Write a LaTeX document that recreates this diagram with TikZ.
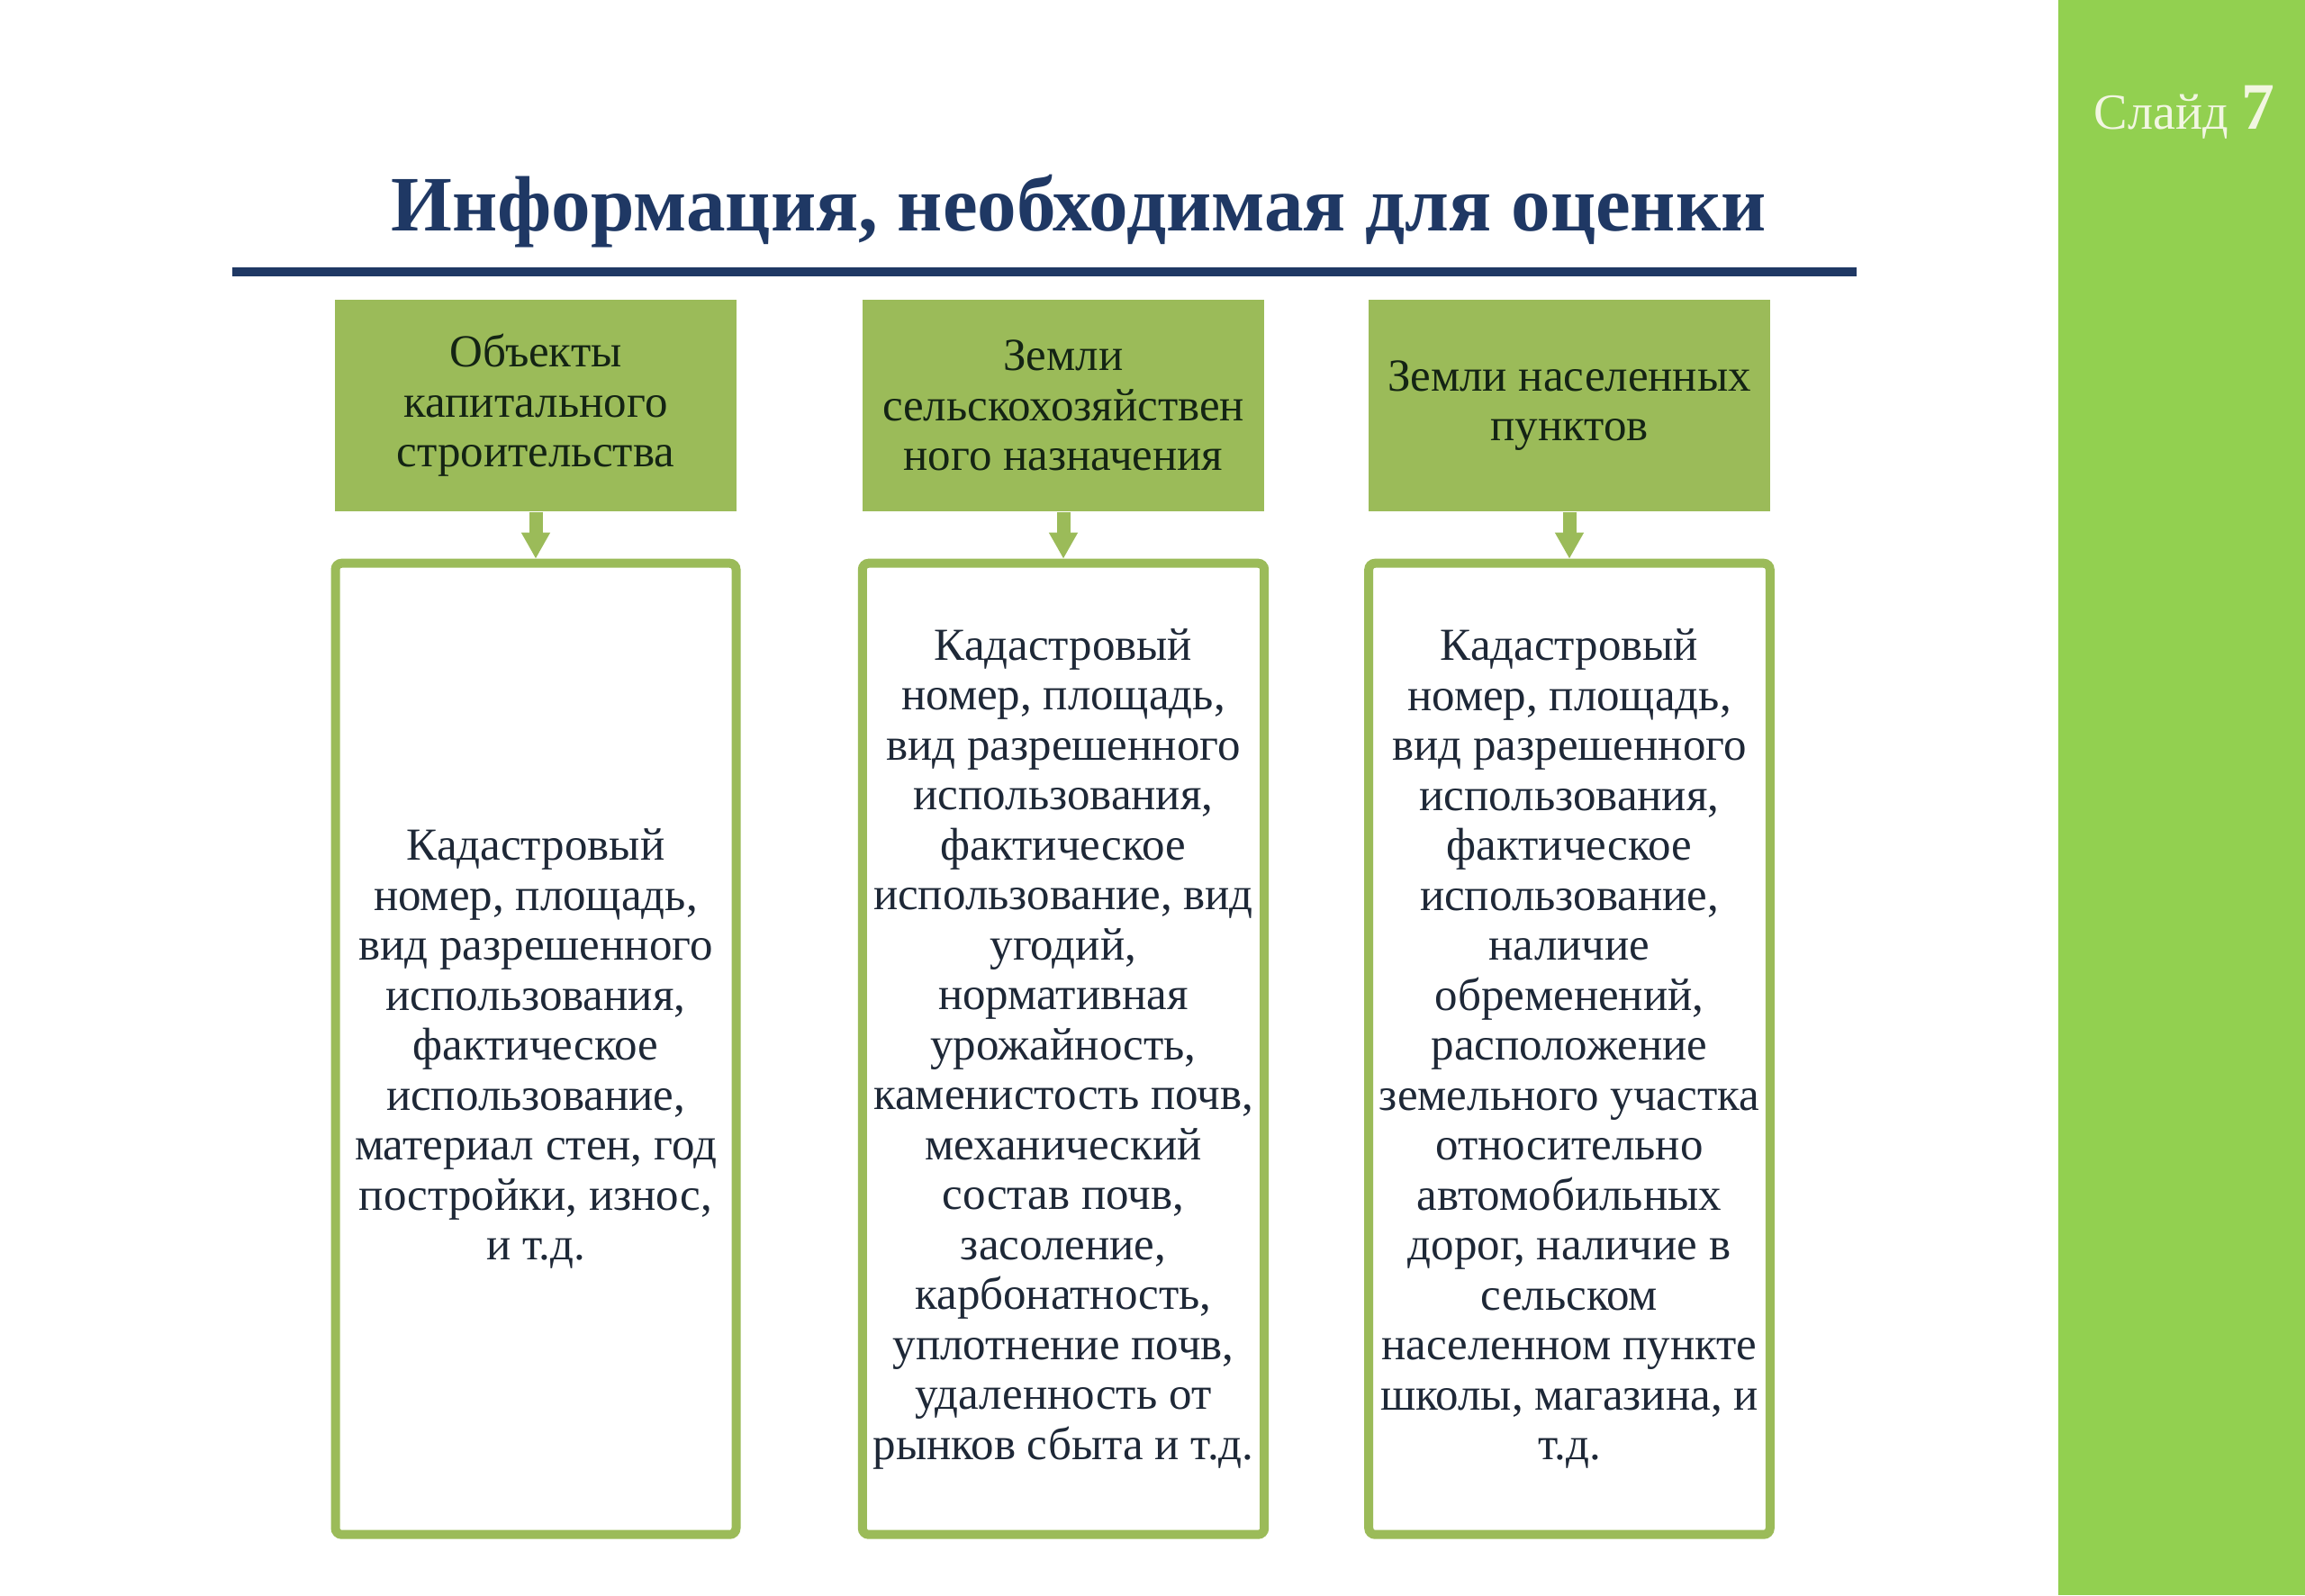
\documentclass[tikz,border=0pt]{standalone}
\usepackage{fontspec}
\setmainfont{Liberation Serif}
\usepackage{xcolor}
\usepackage{tikz}
\usetikzlibrary{arrows.meta,positioning}
\definecolor{slideGreen}{RGB}{146,208,80}
\definecolor{headerGreen}{RGB}{155,187,89}
\definecolor{titleNavy}{RGB}{31,56,100}
\definecolor{textDark}{RGB}{30,40,55}
\definecolor{headText}{RGB}{20,36,20}
\definecolor{labelCream}{RGB}{242,246,226}
\tikzset{
  hdrbox/.style={
    rectangle, fill=headerGreen, minimum width=4.46cm, minimum height=2.35cm,
    align=center, text=headText, font=\fontsize{14.5pt}{15.8pt}\selectfont
  },
  infobox/.style={
    rectangle, rounded corners=2pt, draw=headerGreen, line width=0.1cm,
    fill=white, minimum width=4.45cm, minimum height=10.79cm,
    align=center, text=textDark, font=\fontsize{14.5pt}{15.8pt}\selectfont
  },
  flowArrow/.style={-{Triangle[width=0.3cm,length=0.29cm]}, line width=0.15cm,
    color=headerGreen}
}
\begin{document}
\begin{tikzpicture}
  \useasboundingbox (0,0) rectangle (25.6,-17.72);
  \fill[white] (0,0) rectangle (25.6,-17.72);
  \fill[slideGreen] (22.86,0) rectangle (25.6,-17.72);
  \node[anchor=base west, text=labelCream, inner sep=0pt] (slide) at (23.25,-1.43)
    {\fontsize{16pt}{18pt}\selectfont Слайд \fontsize{21pt}{22pt}\selectfont\bfseries 7};

  \node[anchor=base, text=titleNavy, inner sep=0pt,
        font=\fontsize{24.8pt}{28pt}\selectfont\bfseries] (title) at (11.98,-2.56)
    {Информация, необходимая для оценки};
  \coordinate (ruleL) at (2.58,-3.02);
  \coordinate (ruleR) at (20.62,-3.02);
  \draw[titleNavy, line width=0.1cm] (ruleL) -- (ruleR);

  \node[hdrbox] (h1) at (5.95,-4.505)
    {Объекты\\капитального\\строительства};
  \node[hdrbox] (h2) at (11.81,-4.505)
    {Земли\\сельскохозяйствен\\ного назначения};
  \node[hdrbox] (h3) at (17.43,-4.505)
    {Земли населенных\\пунктов};

  \node[infobox, below=0.52cm of h1] (b1)
    {Кадастровый\\номер, площадь,\\вид разрешенного\\использования,\\фактическое\\использование,\\материал стен, год\\постройки, износ,\\и т.д.};
  \node[infobox, below=0.52cm of h2] (b2)
    {Кадастровый\\номер, площадь,\\вид разрешенного\\использования,\\фактическое\\использование, вид\\угодий,\\нормативная\\урожайность,\\каменистость почв,\\механический\\состав почв,\\засоление,\\карбонатность,\\уплотнение почв,\\удаленность от\\рынков сбыта и т.д.};
  \node[infobox, below=0.52cm of h3] (b3)
    {Кадастровый\\номер, площадь,\\вид разрешенного\\использования,\\фактическое\\использование,\\наличие\\обременений,\\расположение\\земельного участка\\относительно\\автомобильных\\дорог, наличие в\\сельском\\населенном пункте\\школы, магазина, и\\т.д.};

  \draw[flowArrow] (h1) -- (b1);
  \draw[flowArrow] (h2) -- (b2);
  \draw[flowArrow] (h3) -- (b3);
\end{tikzpicture}
\end{document}
